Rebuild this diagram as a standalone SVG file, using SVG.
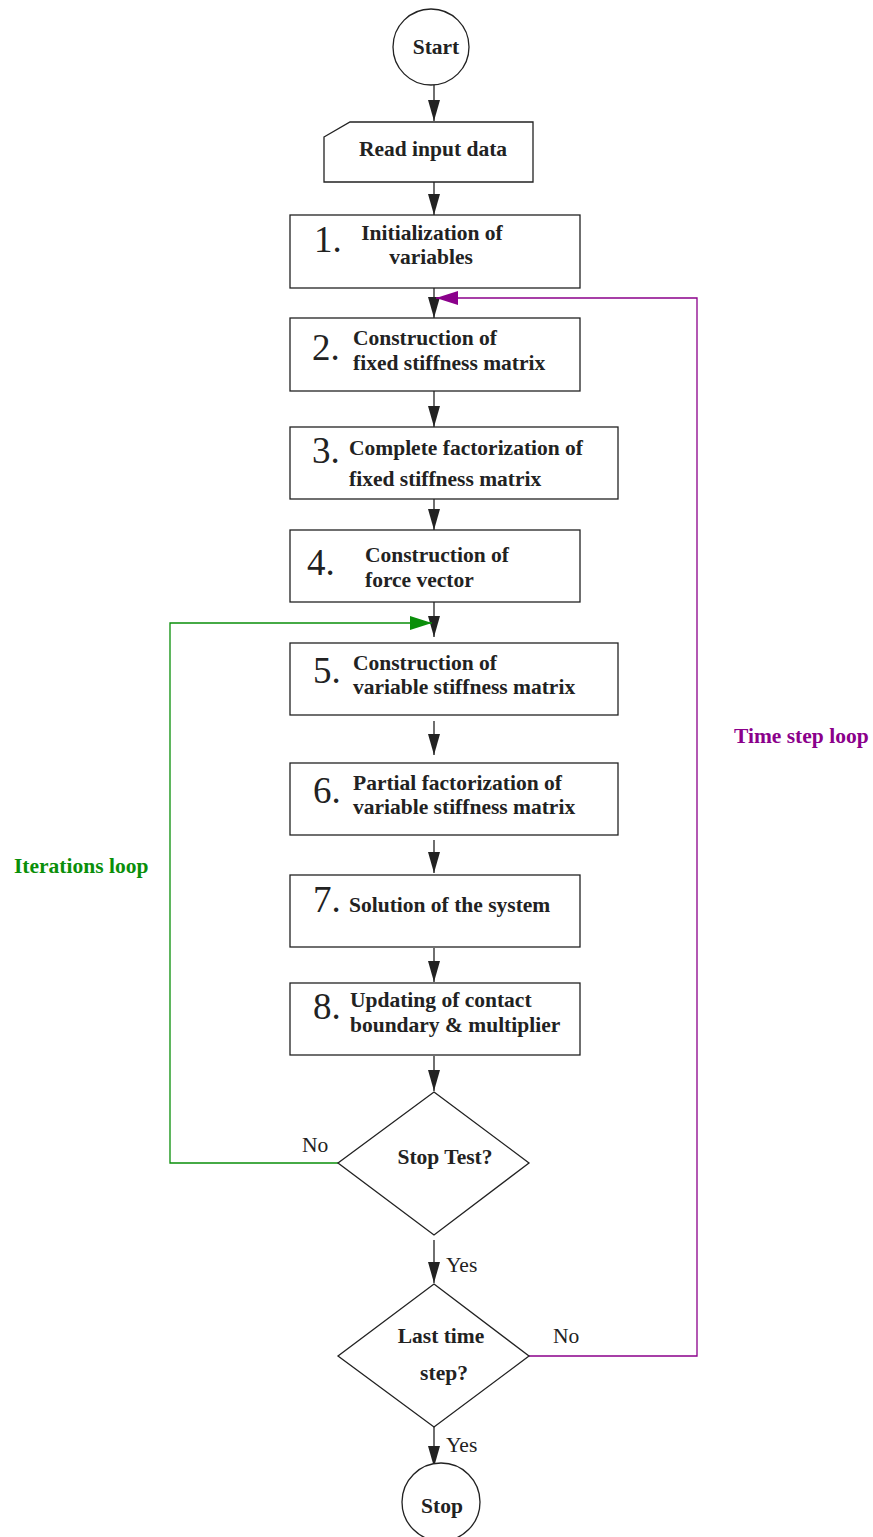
<svg xmlns="http://www.w3.org/2000/svg" width="873" height="1537" viewBox="0 0 873 1537">
<style>
.box{fill:#fff;stroke:#222;stroke-width:1.3}
.t{font-family:"Liberation Serif","Times New Roman",serif;font-weight:bold;font-size:21.5px;fill:#222}
.n{font-family:"Liberation Serif","Times New Roman",serif;font-size:37px;fill:#222}
.r{font-family:"Liberation Serif","Times New Roman",serif;font-size:21.5px;fill:#222}
.c{text-anchor:middle}
.a{stroke:#222;stroke-width:1.3;fill:none;marker-end:url(#ah)}
</style>
<defs>
<marker id="ah" markerUnits="userSpaceOnUse" markerWidth="14" markerHeight="22" viewBox="0 0 14 22" refX="7" refY="21" orient="0">
<path d="M1,0 L13,0 L7,21 Z" fill="#222"/>
</marker>
<marker id="ag" markerUnits="userSpaceOnUse" markerWidth="24" markerHeight="16" viewBox="0 0 24 16" refX="22" refY="8" orient="auto">
<path d="M0,1 L22,8 L0,15 Z" fill="#0a8f0a"/>
</marker>
<marker id="ap" markerUnits="userSpaceOnUse" markerWidth="24" markerHeight="16" viewBox="0 0 24 16" refX="22" refY="8" orient="auto">
<path d="M0,1 L22,8 L0,15 Z" fill="#8b008b"/>
</marker>
</defs>
<rect width="873" height="1537" fill="#fff"/>
<g id="connectors">
<line class="a" x1="434" y1="85" x2="434" y2="121"/>
<line class="a" x1="434" y1="182" x2="434" y2="215"/>
<line class="a" x1="434" y1="288" x2="434" y2="318"/>
<line class="a" x1="434" y1="391" x2="434" y2="427"/>
<line class="a" x1="434" y1="499" x2="434" y2="530"/>
<line class="a" x1="434" y1="602" x2="434" y2="637"/>
<line class="a" x1="434" y1="721" x2="434" y2="755"/>
<line class="a" x1="434" y1="840" x2="434" y2="873"/>
<line class="a" x1="434" y1="948" x2="434" y2="982"/>
<line class="a" x1="434" y1="1056" x2="434" y2="1091"/>
<line class="a" x1="434" y1="1240" x2="434" y2="1283"/>
<line class="a" x1="434" y1="1427" x2="434" y2="1467"/>
<polyline points="338,1163 170,1163 170,623 432,623" fill="none" stroke="#0a8f0a" stroke-width="1.3" marker-end="url(#ag)"/>
<polyline points="529,1356 697,1356 697,298 436,298" fill="none" stroke="#8b008b" stroke-width="1.3" marker-end="url(#ap)"/>
<text class="r" x="302" y="1152">No</text>
<text class="r" x="446" y="1272">Yes</text>
<text class="r" x="553" y="1343">No</text>
<text class="r" x="446" y="1452">Yes</text>
<text class="t" x="14" y="873" style="fill:#0a8f0a">Iterations loop</text>
<text class="t" x="734" y="743" style="fill:#8b008b">Time step loop</text>
</g>
<g id="start">
<circle class="box" cx="431" cy="47" r="38"/>
<text class="t c" x="436" y="54">Start</text>
</g>
<g id="read">
<path class="box" d="M324,137 L350,122 L533,122 L533,182 L324,182 Z"/>
<text class="t c" x="433" y="156">Read input data</text>
</g>
<g id="step1">
<rect class="box" x="290" y="215" width="290" height="73"/>
<text class="n" x="314" y="252">1.</text>
<text class="t c" x="432" y="240">Initialization of</text>
<text class="t c" x="431" y="264">variables</text>
</g>
<g id="step2">
<rect class="box" x="290" y="318" width="290" height="73"/>
<text class="n" x="312" y="360">2.</text>
<text class="t" x="353" y="345">Construction of</text>
<text class="t" x="353" y="370">fixed stiffness matrix</text>
</g>
<g id="step3">
<rect class="box" x="290" y="427" width="328" height="72"/>
<text class="n" x="312" y="463">3.</text>
<text class="t" x="349" y="455">Complete factorization of</text>
<text class="t" x="349" y="486">fixed stiffness matrix</text>
</g>
<g id="step4">
<rect class="box" x="290" y="530" width="290" height="72"/>
<text class="n" x="307" y="575">4.</text>
<text class="t" x="365" y="562">Construction of</text>
<text class="t" x="365" y="587">force vector</text>
</g>
<g id="step5">
<rect class="box" x="290" y="643" width="328" height="72"/>
<text class="n" x="313" y="683">5.</text>
<text class="t" x="353" y="670">Construction of</text>
<text class="t" x="353" y="694">variable stiffness matrix</text>
</g>
<g id="step6">
<rect class="box" x="290" y="763" width="328" height="72"/>
<text class="n" x="313" y="803">6.</text>
<text class="t" x="353" y="790">Partial factorization of</text>
<text class="t" x="353" y="814">variable stiffness matrix</text>
</g>
<g id="step7">
<rect class="box" x="290" y="875" width="290" height="72"/>
<text class="n" x="313" y="912">7.</text>
<text class="t" x="349" y="912">Solution of the system</text>
</g>
<g id="step8">
<rect class="box" x="290" y="983" width="290" height="72"/>
<text class="n" x="313" y="1019">8.</text>
<text class="t" x="350" y="1007">Updating of contact</text>
<text class="t" x="350" y="1032">boundary &amp; multiplier</text>
</g>
<g id="stoptest">
<polygon class="box" points="434,1092 529,1163 434,1235 338,1163"/>
<text class="t c" x="445" y="1164">Stop Test?</text>
</g>
<g id="lasttime">
<polygon class="box" points="434,1284 529,1356 434,1427 338,1356"/>
<text class="t c" x="441" y="1343">Last time</text>
<text class="t c" x="444" y="1380">step?</text>
</g>
<g id="stop">
<circle class="box" cx="441" cy="1502" r="39"/>
<text class="t c" x="442" y="1513">Stop</text>
</g>
</svg>
